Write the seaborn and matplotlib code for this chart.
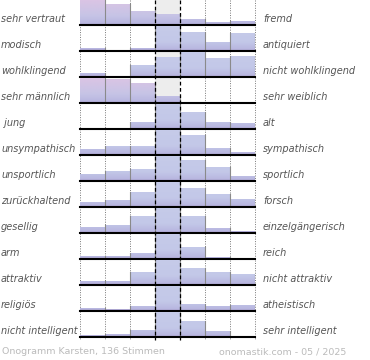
import numpy as np
import pandas as pd
import matplotlib
matplotlib.use("Agg")
import matplotlib.pyplot as plt
from matplotlib.colors import LinearSegmentedColormap
import seaborn as sns

# Gegensatzpaare (links / rechts)
links = ["sehr vertraut", "modisch", "wohlklingend", "sehr männlich", " jung",
         "unsympathisch", "unsportlich", "zurückhaltend", "gesellig", "arm",
         "attraktiv", "religiös", "nicht intelligent"]
rechts = ["fremd", "antiquiert", "nicht wohlklingend", "sehr weiblich", "alt",
          "sympathisch", "sportlich", "forsch", "einzelgängerisch", "reich",
          "nicht attraktiv", "atheistisch", "sehr intelligent"]

# Anteile je Stufe (1..7), relativ zur häufigsten Stufe der Zeile (=100)
w_vertraut = [100, 83, 58, 44, 24, 11, 15]
w_modisch = [13, 0, 13, 100, 77, 37, 71]
w_klang = [17, 5, 47, 79, 100, 75, 83]
w_maennlich = [100, 96, 82, 30, 0, 0, 0]
w_jung = [0, 5, 28, 100, 68, 27, 23]
w_sympathisch = [25, 36, 36, 100, 80, 28, 12]
w_sportlich = [27, 42, 49, 100, 83, 56, 20]
w_forsch = [19, 30, 62, 100, 76, 53, 33]
w_gesellig = [25, 33, 69, 100, 67, 20, 7]
w_reich = [11, 11, 24, 100, 47, 8, 0]
w_attraktiv = [17, 17, 51, 100, 69, 51, 43]
w_religioes = [11, 9, 20, 100, 28, 21, 25]
w_intelligent = [8, 12, 27, 100, 63, 23, 0]

werte = [w_vertraut, w_modisch, w_klang, w_maennlich, w_jung, w_sympathisch,
         w_sportlich, w_forsch, w_gesellig, w_reich, w_attraktiv, w_religioes,
         w_intelligent]
stufen = [1, 2, 3, 4, 5, 6, 7]

footer_links = "Onogramm Karsten, 136 Stimmen"
footer_rechts = "onomastik.com - 05 / 2025"

# Zeilen mit rosa Verlauf oben
rosa_zeilen = [0, 3]

W, H = 370, 360
fig = plt.figure(figsize=(W / 100, H / 100), dpi=100)

# Hintergrund: graue Mittelspalte + gepunktete Linien
bg = fig.add_axes([0, 0, 1, 1], label="bg")
bg.set_xlim(0, W)
bg.set_ylim(H, 0)
bg.axis("off")
X0, CW = 80, 25
bg.add_patch(plt.Rectangle((X0 + 3 * CW, 0), CW, 337, color="#ededed", lw=0, zorder=0))
for k in [0, 1, 2, 5, 6, 7]:
    bg.plot([X0 + k * CW] * 2, [0, 340], color="#777777", lw=0.7, ls=(0, (1, 1.5)), zorder=1)

blau = LinearSegmentedColormap.from_list(
    "blau", [(0, "#ac9ecf"), (0.06, "#b8b6e0"), (0.35, "#c3c8e8"), (1, "#c6cbe9")])
rosa = LinearSegmentedColormap.from_list(
    "rosa", [(0, "#ac9ecf"), (0.06, "#b8b6e0"), (0.35, "#c6c4e6"), (1, "#dcc4e4")])
grad = np.linspace(1, 0, 100).reshape(-1, 1)

for i, vals in enumerate(werte):
    base = 25 + 26 * i
    ax = fig.add_axes([X0 / W, (H - base) / H, 7 * CW / W, 26 / H], label=f"r{i}")
    df = pd.DataFrame({"stufe": stufen, "wert": vals})
    sns.barplot(data=df, x="stufe", y="wert", width=1.0, color="#c4c9e8",
                saturation=1, ax=ax, zorder=2)
    cmap = rosa if i in rosa_zeilen else blau
    for p in ax.patches:
        x0 = p.get_x()
        im = ax.imshow(grad, extent=[x0, x0 + 1, 0, 104], aspect="auto",
                       cmap=cmap, vmin=0, vmax=1, zorder=3)
        im.set_clip_path(p)
    # Trennlinien zwischen den Balken
    for k in range(1, 8):
        h = max(vals[k - 1], vals[k] if k < 7 else 0)
        if h > 0:
            ax.plot([k - 0.5, k - 0.5], [0, h], color="#8a8a8a", lw=0.8, zorder=4)
    ax.set_xlim(-0.5, 6.5)
    ax.set_ylim(0, 104)
    ax.axhline(0, color="black", lw=1.5, zorder=5, clip_on=False)
    ax.axis("off")
    ax.patch.set_alpha(0)

    ty = base - 5.5
    bg.text(1, ty, links[i], fontsize=7, style="italic", color="#555555",
            va="center", ha="left")
    bg.text(263, ty, rechts[i], fontsize=7, style="italic", color="#555555",
            va="center", ha="left")

# Gestrichelte Linien der Mittelspalte oben drauf
ov = fig.add_axes([0, 0, 1, 1], label="ov")
ov.set_xlim(0, W)
ov.set_ylim(H, 0)
ov.axis("off")
ov.patch.set_alpha(0)
for k in [3, 4]:
    ov.plot([X0 + k * CW] * 2, [0, 340], color="black", lw=0.9, ls=(0, (3, 2)))

ov.text(2, 352, footer_links, fontsize=6.8, color="#bbbbbb", va="center", ha="left")
ov.text(346, 352, footer_rechts, fontsize=6.8, color="#bbbbbb", va="center", ha="right")

fig.savefig("out.png", dpi=100)
